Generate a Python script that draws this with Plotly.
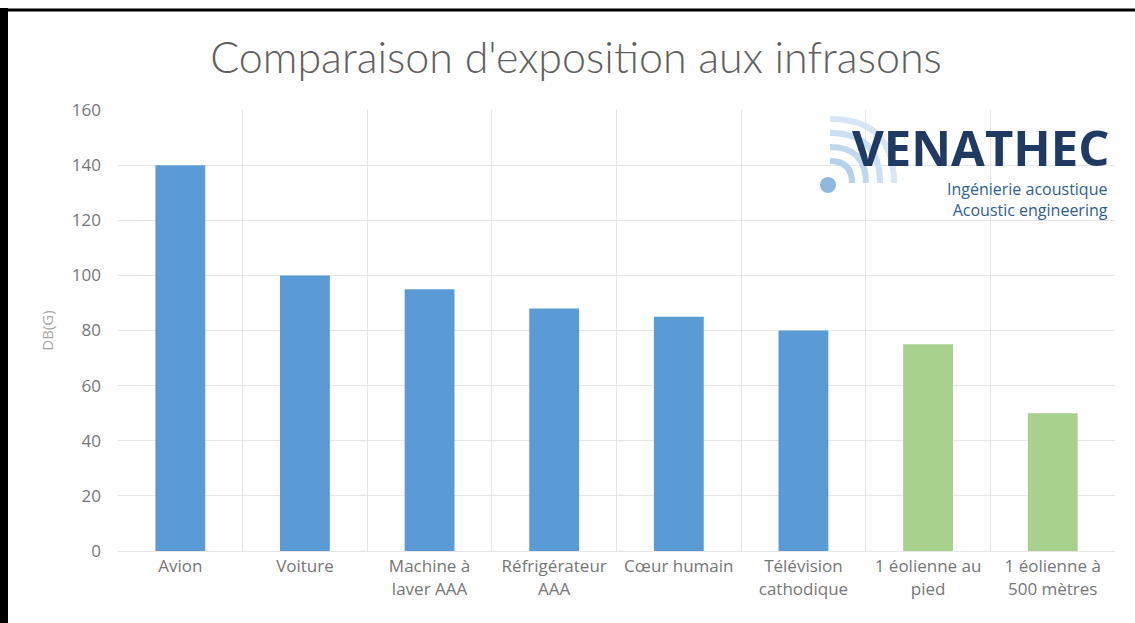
import plotly.graph_objects as go

categories = ["Avion", "Voiture", "Machine à<br>laver AAA", "Réfrigérateur<br>AAA",
              "Cœur humain", "Télévision<br>cathodique", "1 éolienne au<br>pied",
              "1 éolienne à<br>500 mètres"]
values = [140, 100, 95, 88, 85, 80, 75, 50]
bar_colors = ["#5B9BD5"] * 6 + ["#A9D18E"] * 2
y_ticks = [0, 20, 40, 60, 80, 100, 120, 140, 160]

W, H = 1135, 623
ML, MR, MT, MB = 118, 20, 110, 72
PW, PH = W - ML - MR, H - MT - MB

def px(x):
    return (x - ML) / PW

def py(y):
    return 1 - (y - MT) / PH

fig = go.Figure(go.Bar(x=categories, y=values, marker_color=bar_colors,
                       marker_line_width=0))

shapes = []
# logo wave arcs (behind text)
cx, cy = 828, 185
for r, c in [(24, "#B3D1EA"), (38, "#BFD8EE"), (52, "#CADFF1"), (66, "#D6E6F4")]:
    x0, y0 = cx + 2, cy - r
    x1, y1 = cx + r, cy - 2
    path = f"M {px(x0)},{py(y0)} Q {px(cx + r)},{py(cy - r)} {px(x1)},{py(y1)}"
    shapes.append(dict(type="path", xref="paper", yref="paper", path=path, layer="above",
                       line=dict(color=c, width=6)))
shapes += [
    dict(type="circle", xref="paper", yref="paper", x0=px(820), x1=px(836), y0=py(177), y1=py(193),
         fillcolor="#8DB9DE", line_width=0, layer="above"),
    dict(type="line", xref="paper", yref="paper", x0=px(4), x1=px(4), y0=py(8), y1=py(623),
         line=dict(color="black", width=8)),
    dict(type="line", xref="paper", yref="paper", x0=px(0), x1=px(1135), y0=py(10), y1=py(10),
         line=dict(color="black", width=3)),
]

annotations = [
    dict(text="VENATHEC", xref="paper", yref="paper", x=px(1111), y=py(147),
         xanchor="right", yanchor="middle", showarrow=False,
         font=dict(family="Open Sans", size=49, color="#1F3A63", weight=700)),
    dict(text="Ingénierie acoustique<br>Acoustic engineering", xref="paper", yref="paper",
         x=px(1110), y=py(199), xanchor="right", yanchor="middle", align="right",
         showarrow=False,
         font=dict(family="Open Sans", size=16, color="#2F5E8E")),
]

fig.update_layout(
    width=W, height=H,
    margin=dict(l=ML, r=MR, t=MT, b=MB),
    paper_bgcolor="white", plot_bgcolor="white",
    title=dict(text="Comparaison d'exposition aux infrasons", xref="paper", x=px(576),
               xanchor="center", y=1 - 58 / H, yanchor="middle",
               font=dict(family="Lato", size=43, color="#5F5F5F", weight=300)),
    bargap=0.6,
    showlegend=False,
    shapes=shapes,
    annotations=annotations,
    xaxis=dict(tickson="boundaries", showgrid=True, gridcolor="#E6E6E6", gridwidth=1,
               ticks="", showline=True, linecolor="#E6E6E6",
               tickfont=dict(family="Open Sans", size=17, color="#767676")),
    yaxis=dict(range=[0, 160], tickvals=y_ticks, showgrid=True, gridcolor="#E6E6E6",
               zeroline=False, ticks="", showline=False, ticklabelstandoff=16,
               tickfont=dict(family="Open Sans", size=17, color="#767676"),
               title=dict(text="DB(G)", standoff=14,
                          font=dict(family="Open Sans", size=15, color="#A6A6A6"))),
)

fig.write_html("out.html", config={"displayModeBar": False},
               post_script="document.body.style.margin='0';")
